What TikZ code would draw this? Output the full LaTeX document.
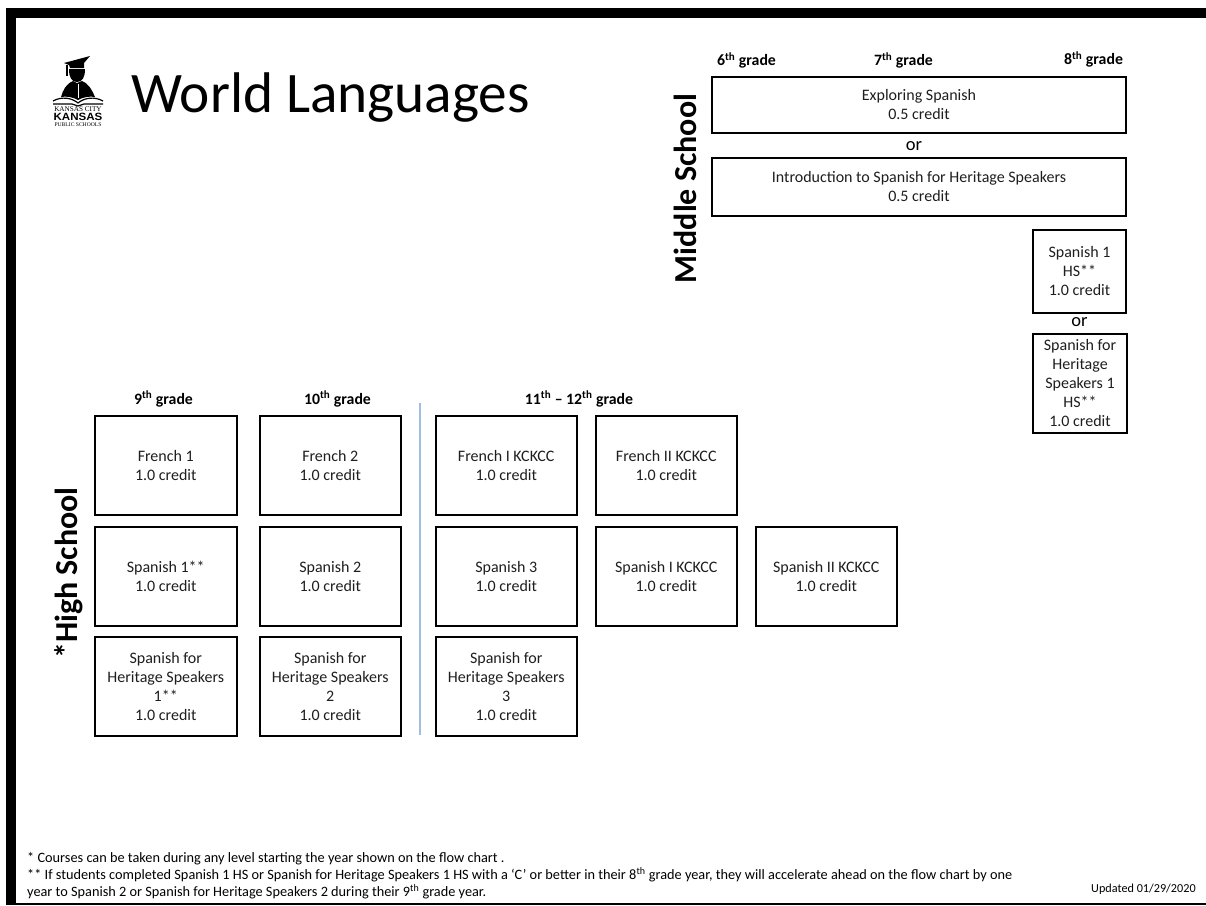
\documentclass[tikz,border=0pt]{standalone}
\usepackage{fontspec}
\setmainfont{Carlito}
\newfontfamily\logoserif{Liberation Serif}
\newfontfamily\logosans{Liberation Sans}
\usetikzlibrary{positioning}
\definecolor{divblue}{RGB}{160,190,225}
\definecolor{inktext}{RGB}{30,30,30}
\tikzstyle{box} = [draw,line width=2pt,outer sep=0pt,align=center,inner sep=0pt,text=inktext,font=\fontsize{16}{19}\selectfont]
\tikzstyle{hsbox} = [box,minimum width=141.5pt,minimum height=99pt]
\tikzstyle{grade} = [font=\fontsize{15.8}{19}\selectfont\bfseries,inner sep=0pt]
\tikzstyle{orlabel} = [font=\fontsize{18.5}{20}\selectfont,inner sep=0pt,outer sep=0pt]
\tikzstyle{school} = [font=\fontsize{32}{36}\selectfont\bfseries,rotate=90,inner sep=0pt]
\tikzstyle{note} = [font=\fontsize{14.3}{16}\selectfont,inner sep=0pt,anchor=west]
\begin{document}
\begin{tikzpicture}[x=1pt,y=-1pt]
\useasboundingbox (0,0) rectangle (1206,905);
\fill (6,8) rectangle (1206,18);
\fill (6,8) rectangle (16,905);
\fill (6,903) rectangle (1206,905);
\fill (64,63) -- (90,56) -- (84,63) -- (84,68) -- (70,68) -- (69,65) -- cycle;
\fill (66,65) rectangle (67.5,76);
\fill (69,69) .. controls (69,78) and (72,82) .. (77,82) .. controls (82,82) and (85,78) .. (85,69) -- cycle;
\fill (61,97) .. controls (63,90) and (66,84) .. (73,81) -- (77,83) -- (82,81) .. controls (89,84) and (92,90) .. (95,97) .. controls (90,96) and (83,97) .. (78,100) .. controls (73,97) and (66,96) .. (61,97) -- cycle;
\draw[white,line width=0.6pt] (78,84) -- (78,98);
\draw[line width=1.2pt] (53,101) .. controls (62,96) and (72,98) .. (78,103) .. controls (84,98) and (94,96) .. (103,101);
\draw[line width=1.2pt] (53,104) -- (72,104) -- (78,106) -- (84,104) -- (103,104);
\node[inner sep=0pt,font=\fontsize{7.2}{8}\logoserif] (cityline) at (78,109.5) {KANSAS CITY};
\node[inner sep=0pt,font=\fontsize{10.5}{10}\logosans\bfseries,xscale=1.1] (kansasline) at (78,117) {KANSAS};
\node[inner sep=0pt,font=\fontsize{5.6}{6}\logoserif] (publicline) at (78,125) {PUBLIC SCHOOLS};
\node[inner sep=0pt,anchor=west,font=\fontsize{57.3}{60}\selectfont] (title) at (131,98) {World Languages};
\node[box,minimum width=414pt,minimum height=56pt] (exploring) at (919,105) {Exploring Spanish\\0.5 credit};
\node[orlabel,below=9pt of exploring,xshift=-5pt] (or1) {or};
\node[box,minimum width=414pt,minimum height=58pt] (intro) at (919,187) {Introduction to Spanish for Heritage Speakers\\0.5 credit};
\node[box,minimum width=93pt,minimum height=83pt] (hsone) at (1079.5,271) {Spanish 1\\HS**\\1.0 credit};
\node[orlabel,below=5pt of hsone] (or2) {or};
\node[box,minimum width=94pt,minimum height=99pt] (heritagehs) at (1080,383.5) {Spanish for\\Heritage\\Speakers 1\\HS**\\1.0 credit};
\node[grade] (sixth) at (746.5,60.5) {6\textsuperscript{th} grade};
\node[grade] (seventh) at (903.5,60.5) {7\textsuperscript{th} grade};
\node[grade] (eighth) at (1093.5,59.5) {8\textsuperscript{th} grade};
\node[school] (middle) at (685,188.5) {Middle School};
\node[hsbox] (frone) at (165.75,465.5) {French 1\\1.0 credit};
\node[hsbox,right=23pt of frone] (frtwo) {French 2\\1.0 credit};
\node[hsbox,right=34.5pt of frtwo] (frkone) {French I KCKCC\\1.0 credit};
\node[hsbox,right=18.5pt of frkone] (frktwo) {French II KCKCC\\1.0 credit};
\node[hsbox,below=11.5pt of frone] (spone) {Spanish 1**\\1.0 credit};
\node[hsbox,right=23pt of spone] (sptwo) {Spanish 2\\1.0 credit};
\node[hsbox,right=34.5pt of sptwo] (spthree) {Spanish 3\\1.0 credit};
\node[hsbox,right=18.5pt of spthree] (spkone) {Spanish I KCKCC\\1.0 credit};
\node[hsbox,right=18.5pt of spkone] (spktwo) {Spanish II KCKCC\\1.0 credit};
\node[hsbox,below=11.5pt of spone] (heone) {Spanish for\\Heritage Speakers\\1**\\1.0 credit};
\node[hsbox,right=23pt of heone] (hetwo) {Spanish for\\Heritage Speakers\\2\\1.0 credit};
\node[hsbox,right=34.5pt of hetwo] (hethree) {Spanish for\\Heritage Speakers\\3\\1.0 credit};
\node[grade] (ninth) at (163.5,399) {9\textsuperscript{th} grade};
\node[grade] (tenth) at (337.5,399) {10\textsuperscript{th} grade};
\node[grade] (upper) at (579,399) {11\textsuperscript{th} -- 12\textsuperscript{th} grade};
\node[school] (high) at (68.5,573) {*High School};
\coordinate (divtop) at (420,403);
\coordinate (divbot) at (420,735);
\draw[color=divblue,line width=1.5pt] (divtop) -- (divbot);
\node[note] (noteone) at (27,858.5) {* Courses can be taken during any level starting the year shown on the flow chart .};
\node[note] (notetwo) at (27,874.5) {** If students completed Spanish 1 HS or Spanish for Heritage Speakers 1 HS with a ‘C’ or better in their 8\textsuperscript{th} grade year, they will accelerate ahead on the flow chart by one};
\node[note] (notethree) at (27,892) {year to Spanish 2 or Spanish for Heritage Speakers 2 during their 9\textsuperscript{th} grade year.};
\node[note,font=\fontsize{12.2}{14}\selectfont] (updated) at (1091,889.5) {Updated 01/29/2020};
\end{tikzpicture}
\end{document}
